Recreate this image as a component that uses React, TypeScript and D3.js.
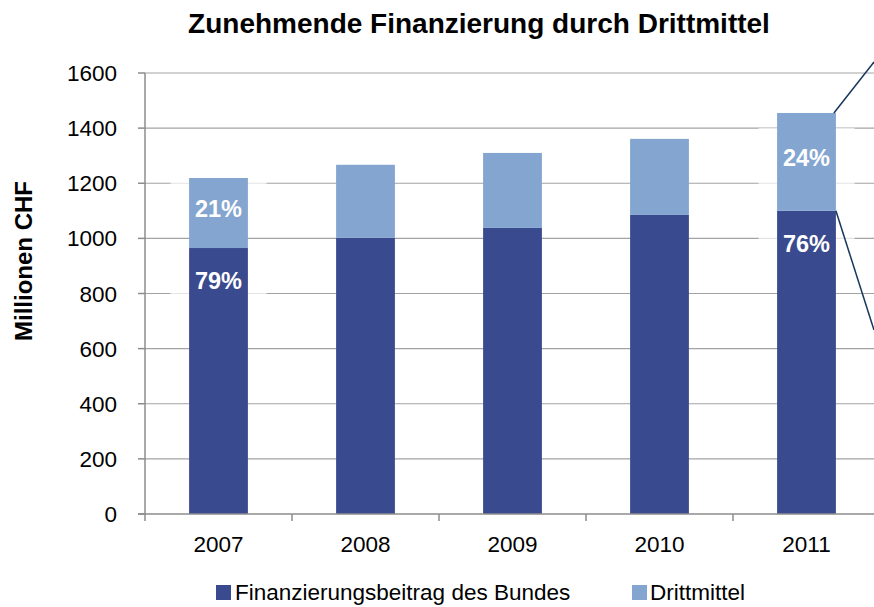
import React from 'react';
import * as d3 from 'd3';

// values (Mio. CHF)
const years = ['2007', '2008', '2009', '2010', '2011'];
const bund = [965, 1002, 1038, 1085, 1100];
const dritt = [254, 265, 272, 276, 355];
const yTicks = [0, 200, 400, 600, 800, 1000, 1200, 1400, 1600];
const labelYears = ['2007', '2011'];
const bundPct = ['79%', '76%'];
const drittPct = ['21%', '24%'];

const W = 874;
const H = 607;
const FONT = '"Liberation Sans", Arial, sans-serif';
const DARK = '#3a4a8e';
const LIGHT = '#83a5d0';

const App = () => {
    const x = d3.scaleBand()
        .domain(years)
        .range([145, 880])
        .paddingInner(0.6)
        .paddingOuter(0.3);

    const y = d3.scaleLinear()
        .domain([0, 1600])
        .range([514, 73]);

    const step = x.step();
    const bw = x.bandwidth();
    const edges = years.map(d => (x(d) as number) - step * 0.3).concat([(x(years[4]) as number) + bw + step * 0.3]);

    const last = years.length - 1;
    const lastRight = (x(years[last]) as number) + bw;

    return (
        <svg width={W} height={H} style={{ position: 'absolute', left: 0, top: 0, background: '#fff' }} fontFamily={FONT}>
            <text x={479} y={33} textAnchor="middle" fontSize={28} fontWeight="bold">
                Zunehmende Finanzierung durch Drittmittel
            </text>

            <text transform="translate(32,261) rotate(-90)" textAnchor="middle" fontSize={24} fontWeight="bold">
                Millionen CHF
            </text>

            {/* gridlines + y ticks */}
            {yTicks.map(t => (
                <g key={t}>
                    {t > 0 && <line x1={145} x2={W} y1={y(t)} y2={y(t)} stroke="#a3a3a3" strokeWidth={1.2} />}
                    <line x1={138} x2={145} y1={y(t)} y2={y(t)} stroke="#8c8c8c" strokeWidth={1.5} />
                    <text x={117} y={y(t)} dy="0.36em" textAnchor="end" fontSize={22.5}>{t}</text>
                </g>
            ))}

            {/* faint label boxes */}
            {labelYears.map((yr) => {
                const i2 = years.indexOf(yr);
                const cx = (x(yr) as number) + bw / 2;
                const topB = y(bund[i2]);
                const topD = y(bund[i2] + dritt[i2]);
                const cyD = (topD + topB) / 2 - 4;
                return (
                    <g key={'box' + yr} fill="#fff" opacity={0.7}>
                        <rect x={cx - 48} y={cyD - 30} width={96} height={58} />
                        <rect x={cx - 48} y={topB} width={96} height={64} />
                    </g>
                );
            })}

            {/* bars */}
            {years.map((yr, i) => (
                <g key={yr}>
                    <rect x={x(yr)} y={y(bund[i])} width={bw} height={y(0) - y(bund[i])} fill={DARK} />
                    <rect x={x(yr)} y={y(bund[i] + dritt[i])} width={bw} height={y(bund[i]) - y(bund[i] + dritt[i])} fill={LIGHT} />
                </g>
            ))}

            {/* percent labels */}
            {labelYears.map((yr, i) => {
                const i2 = years.indexOf(yr);
                const cx = (x(yr) as number) + bw / 2;
                const topB = y(bund[i2]);
                const topD = y(bund[i2] + dritt[i2]);
                return (
                    <g key={'lab' + yr} fill="#fff" fontWeight="bold" fontSize={23.5} textAnchor="middle">
                        <text x={cx} y={(topD + topB) / 2 - 4} dy="0.36em">{drittPct[i]}</text>
                        <text x={cx} y={topB + 33} dy="0.36em">{bundPct[i]}</text>
                    </g>
                );
            })}

            {/* axes */}
            <line x1={145} x2={145} y1={y(1600)} y2={y(0)} stroke="#8c8c8c" strokeWidth={1.5} />
            <line x1={138} x2={W} y1={y(0)} y2={y(0)} stroke="#8c8c8c" strokeWidth={1.5} />
            {edges.map((e, i) => (
                <line key={i} x1={e} x2={e} y1={y(0)} y2={y(0) + 7} stroke="#8c8c8c" strokeWidth={1.5} />
            ))}
            {years.map(yr => (
                <text key={'xl' + yr} x={(x(yr) as number) + bw / 2} y={552} textAnchor="middle" fontSize={22.5}>{yr}</text>
            ))}

            {/* leader lines toward the right */}
            <line x1={lastRight - 2} y1={y(bund[last] + dritt[last])} x2={W} y2={62} stroke="#17375e" strokeWidth={1.5} />
            <line x1={lastRight} y1={y(bund[last])} x2={W} y2={330} stroke="#17375e" strokeWidth={1.5} />

            {/* legend */}
            <rect x={216} y={585} width={15} height={15} fill={DARK} />
            <text x={235} y={600} fontSize={22.5}>Finanzierungsbeitrag des Bundes</text>
            <rect x={632} y={585} width={15} height={15} fill={LIGHT} />
            <text x={650} y={600} fontSize={22.5}>Drittmittel</text>
        </svg>
    );
};

export default App;
